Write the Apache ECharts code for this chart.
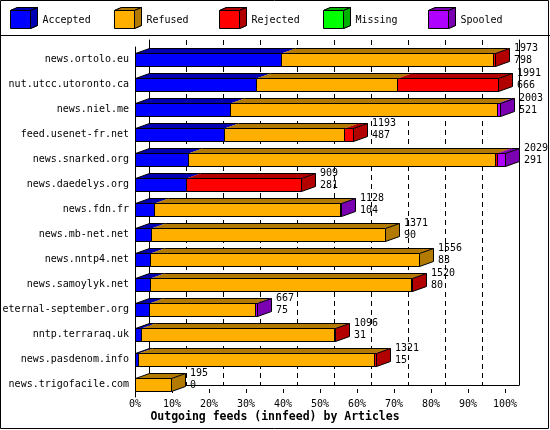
<!DOCTYPE html>
<html>
<head>
<meta charset="utf-8">
<script src="https://cdn.jsdelivr.net/npm/echarts@6/dist/echarts.min.js"></script>
<style>
  html, body { margin: 0; padding: 0; background: #fff; }
  #chart { width: 550px; height: 430px; }
</style>
</head>
<body>
<div id="chart"></div>
<script>
// feeds, top to bottom
var sites = ['news.ortolo.eu', 'nut.utcc.utoronto.ca', 'news.niel.me', 'feed.usenet-fr.net',
  'news.snarked.org', 'news.daedelys.org', 'news.fdn.fr', 'news.mb-net.net', 'news.nntp4.net',
  'news.samoylyk.net', 'eternal-september.org', 'nntp.terraraq.uk', 'news.pasdenom.info',
  'news.trigofacile.com'];
var offered  = [1973, 1991, 2003, 1193, 2029, 909, 1128, 1371, 1556, 1520, 667, 1096, 1321, 195];
var accepted = [798, 666, 521, 487, 291, 281, 104, 90, 83, 80, 75, 31, 15, 0];
var refused  = [1165, 772, 1462, 661, 1685, 0, 1020, 1281, 1473, 1435, 583, 1060, 1298, 195];
var rejected = [10, 553, 0, 45, 10, 628, 0, 0, 0, 5, 0, 5, 8, 0];
var missing  = [0, 0, 0, 0, 0, 0, 0, 0, 0, 0, 0, 0, 0, 0];
var spooled  = [0, 0, 20, 0, 43, 0, 4, 0, 0, 0, 9, 0, 0, 0];

var names = ['Accepted', 'Refused', 'Rejected', 'Missing', 'Spooled'];
var frontColors = ['#0000ff', '#ffaf00', '#ff0000', '#00ff00', '#af00ff'];
var darkColors  = ['#0000b2', '#b27a00', '#b20000', '#00b200', '#7a00b2'];
var FONT = '"DejaVu Sans Mono", "Liberation Mono", monospace';
var DX = 14, DY = -5; // depth of the 3d look

var segs = [accepted, refused, rejected, missing, spooled];
var maxTotal = Math.max.apply(null, offered);
function pct(v) { return v / maxTotal * 100; }

var lastSeg = sites.map(function (s, i) {
  var l = -1;
  segs.forEach(function (a, k) { if (a[i] > 0) l = k; });
  return l;
});

var segData = segs.map(function (arr, k) {
  var out = [];
  arr.forEach(function (v, i) {
    if (v <= 0) return;
    var start = 0;
    for (var j = 0; j < k; j++) start += segs[j][i];
    out.push([pct(start), pct(start + v), i, lastSeg[i] === k ? 1 : 0]);
  });
  return out;
});

var ends = sites.map(function (s, i) {
  var t = 0;
  segs.forEach(function (a) { t += a[i]; });
  return [pct(t), i, offered[i], accepted[i]];
});

function segRender(k) {
  return function (params, api) {
    var p0 = api.coord([api.value(0), api.value(2)]);
    var p1 = api.coord([api.value(1), api.value(2)]);
    var h = Math.round(api.size([0, 1])[1] * 0.52);
    var x0 = Math.round(p0[0]) + 0.5, x1 = Math.round(p1[0]) + 0.5;
    var yt = Math.round(p0[1] - h / 2) + 0.5, yb = yt + h;
    var children = [
      { type: 'polygon', shape: { points: [[x0, yt], [x0 + DX, yt + DY], [x1 + DX, yt + DY], [x1, yt]] },
        style: { fill: darkColors[k] } },
      { type: 'line', shape: { x1: x0 + DX, y1: yt + DY, x2: x1 + DX, y2: yt + DY },
        style: { stroke: '#000', lineWidth: 1 } },
      { type: 'rect', shape: { x: x0, y: yt, width: x1 - x0, height: yb - yt },
        style: { fill: frontColors[k], stroke: '#000', lineWidth: 1 } }
    ];
    if (api.value(0) === 0) {
      children.push({ type: 'line', shape: { x1: x0, y1: yt, x2: x0 + DX, y2: yt + DY },
        style: { stroke: '#000', lineWidth: 1 } });
    }
    if (api.value(3) === 1) {
      children.push({ type: 'polygon',
        shape: { points: [[x1, yt], [x1 + DX, yt + DY], [x1 + DX, yb + DY], [x1, yb]] },
        style: { fill: darkColors[k], stroke: '#000', lineWidth: 1 } });
    }
    return { type: 'group', children: children };
  };
}

function labelRender(params, api) {
  var p = api.coord([api.value(0), api.value(1)]);
  var x = Math.round(p[0]) + DX + 5;
  var st = { font: '10px ' + FONT, fill: '#000', align: 'left', verticalAlign: 'middle' };
  return { type: 'group', children: [
    { type: 'text', style: Object.assign({ text: String(api.value(2)), x: x, y: p[1] - 11 }, st) },
    { type: 'text', style: Object.assign({ text: String(api.value(3)), x: x, y: p[1] + 1 }, st) }
  ] };
}

var legendLeft = [10, 114, 219, 323, 428];
var legendTop = 7;

var graphics = [
  { type: 'rect', shape: { x: 0.5, y: 0.5, width: 548, height: 428 },
    style: { fill: null, stroke: '#000', lineWidth: 1 }, z: 100 },
  { type: 'line', shape: { x1: 0, y1: 35.5, x2: 550, y2: 35.5 },
    style: { stroke: '#000', lineWidth: 1 }, z: 100 }
];
legendLeft.forEach(function (l, k) {
  var L = l + 0.5, T = legendTop + 0.5;
  graphics.push({ type: 'polygon', z: 100,
    shape: { points: [[L, T + 3], [L + 7, T], [L + 27, T], [L + 20, T + 3]] },
    style: { fill: darkColors[k], stroke: '#000', lineWidth: 1 } });
  graphics.push({ type: 'polygon', z: 100,
    shape: { points: [[L + 20, T + 3], [L + 27, T], [L + 27, T + 18], [L + 20, T + 21]] },
    style: { fill: darkColors[k], stroke: '#000', lineWidth: 1 } });
});

var chart = echarts.init(document.getElementById('chart'));

var series = names.map(function (n, k) {
  return {
    name: n,
    type: 'custom',
    xAxisIndex: 0,
    yAxisIndex: 0,
    itemStyle: { color: frontColors[k] },
    renderItem: segRender(k),
    encode: { x: [0, 1], y: 2 },
    data: segData[k],
    silent: true,
    animation: false
  };
});
series.push({
  name: 'totals',
  type: 'custom',
  xAxisIndex: 0,
  yAxisIndex: 0,
  renderItem: labelRender,
  encode: { x: 0, y: 1 },
  data: ends,
  silent: true,
  animation: false,
  z: 5
});

chart.setOption({
  backgroundColor: '#fff',
  animation: false,
  title: {
    text: 'Outgoing feeds (innfeed) by Articles',
    left: 'center',
    top: 411,
    padding: 0,
    textStyle: { fontFamily: FONT, fontSize: 11.5, fontWeight: 'bold', color: '#000' }
  },
  legend: names.map(function (n, k) {
    return {
      data: [n],
      left: legendLeft[k],
      top: legendTop,
      padding: 0,
      itemWidth: 27,
      itemHeight: 21,
      icon: 'path://M0,3L7,0L27,0L27,18L20,21L0,21Z',
      itemStyle: { borderColor: '#000', borderWidth: 1 },
      selectedMode: false,
      formatter: '{t|{name}}',
      textStyle: {
        fontFamily: FONT, fontSize: 10, color: '#000',
        rich: { t: { fontFamily: FONT, fontSize: 10, color: '#000', padding: [5, 0, 0, 0] } }
      }
    };
  }),
  grid: [
    { left: 135, right: 45, top: 47, bottom: 33, outerBoundsMode: 'none' },
    { left: 149, right: 31, top: 40, bottom: 45, outerBoundsMode: 'none' }
  ],
  xAxis: [
    {
      gridIndex: 0, type: 'value', min: 0, max: 100, interval: 10, offset: -8,
      axisLine: { onZero: false, lineStyle: { color: '#000', width: 1 } },
      axisTick: { show: true, length: 4, lineStyle: { color: '#000' } },
      axisLabel: { formatter: '{value}%', color: '#000', fontFamily: FONT, fontSize: 10, margin: 10 },
      splitLine: { show: false }
    },
    {
      gridIndex: 1, type: 'value', min: 0, max: 100, interval: 10,
      axisLine: { onZero: false, lineStyle: { color: '#000', width: 1 } },
      axisTick: { show: false },
      axisLabel: { show: false },
      splitLine: { show: true, lineStyle: { color: '#000', width: 1, type: [5, 4] } }
    }
  ],
  yAxis: [
    {
      gridIndex: 0, type: 'category', inverse: true, data: sites,
      axisLine: { onZero: false, lineStyle: { color: '#000', width: 1 } },
      axisTick: { show: false },
      axisLabel: { color: '#000', fontFamily: FONT, fontSize: 10, margin: 6 },
      splitLine: { show: false }
    },
    {
      gridIndex: 1, type: 'value', min: 0, max: 1,
      axisLine: { show: true, onZero: false, lineStyle: { color: '#000', width: 1 } },
      axisTick: { show: false }, axisLabel: { show: false }, splitLine: { show: false }
    },
    {
      gridIndex: 1, type: 'value', position: 'right', min: 0, max: 1,
      axisLine: { show: true, onZero: false, lineStyle: { color: '#000', width: 1 } },
      axisTick: { show: false }, axisLabel: { show: false }, splitLine: { show: false }
    }
  ],
  graphic: graphics,
  series: series
});
</script>
</body>
</html>
